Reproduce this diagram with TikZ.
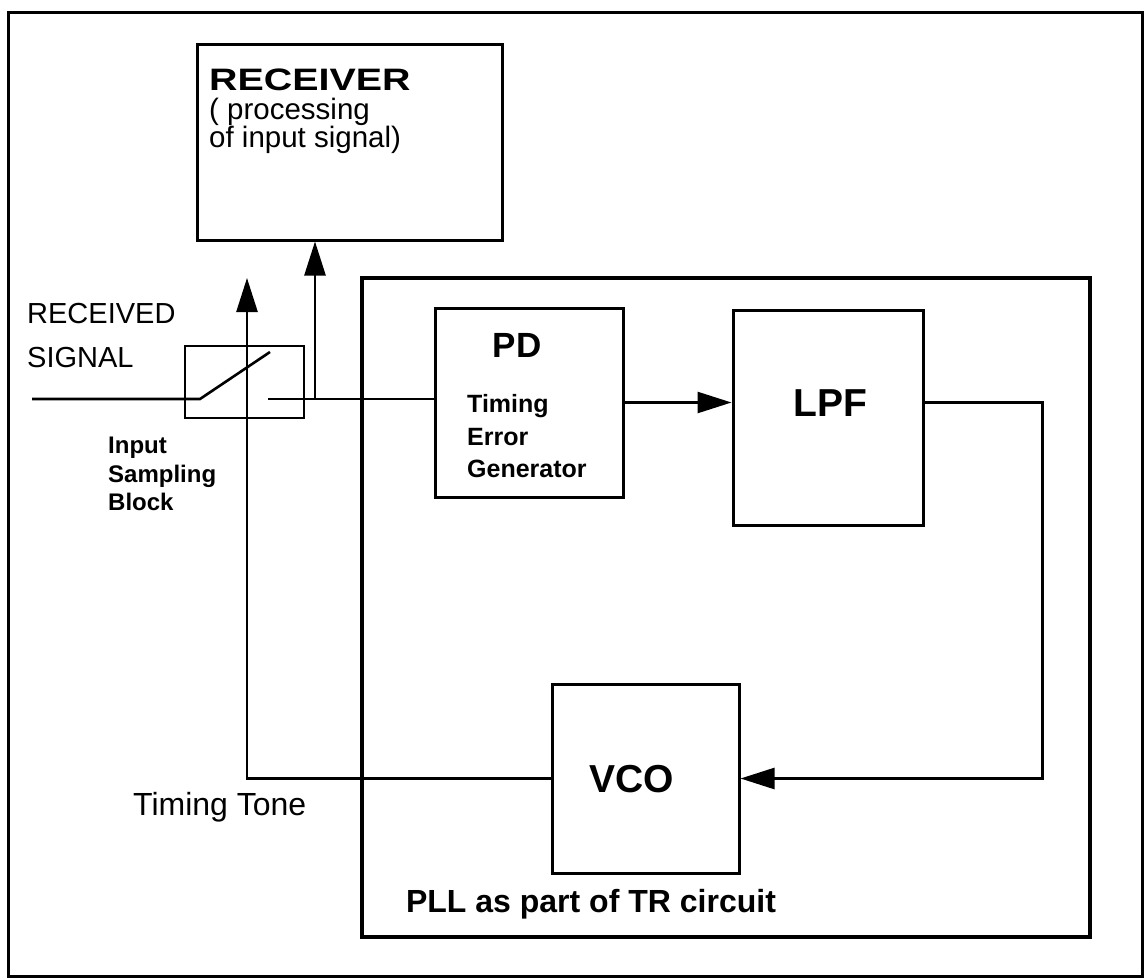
\documentclass[tikz,border=0pt]{standalone}
\usepackage{fontspec}
\setmainfont{Liberation Sans}
\newfontfamily\widefont{Liberation Sans}[FakeStretch=1.27]
\usetikzlibrary{arrows.meta}
\begin{document}
\begin{tikzpicture}[x=1pt,y=-1pt]
\tikzset{
  blk/.style={draw, line width=3pt, inner sep=0pt},
  wire/.style={line width=2.6pt},
  arr/.style={line width=2.6pt, -{Triangle[length=34pt,width=21pt]}},
  txt/.style={inner sep=0pt, anchor=base west},
  ctxt/.style={inner sep=0pt, anchor=base},
}
\useasboundingbox (0,0) rectangle (1144,979);

% outer frame
\node[blk, minimum width=1134pt, minimum height=963pt] (frame) at (575,494.5) {};

% receiver
\node[blk, minimum width=305pt, minimum height=195pt] (rec) at (349.5,142.5) {};
\node[txt] (rect) at (209,91) {\widefont\bfseries\fontsize{31}{31}\selectfont RECEIVER};
\node[txt] (rec2) at (209,120) {\fontsize{29.5}{29.5}\selectfont ( processing};
\node[txt] (rec3) at (209,148) {\fontsize{29.5}{29.5}\selectfont of input signal)};

% PLL box
\node[draw, line width=4.5pt, inner sep=0pt, minimum width=728pt, minimum height=659pt] (pll) at (726,607.5) {};
\node[ctxt] (pllt) at (591,912) {\bfseries\fontsize{32}{32}\selectfont PLL as part of TR circuit};

% switch
\node[draw, line width=2.6pt, inner sep=0pt, minimum width=119pt, minimum height=72pt] (sw) at (244.5,382) {};
\coordinate (in) at (32,399);
\coordinate (sa) at (200,399);
\coordinate (sb) at (270,352);
\coordinate (so) at (268,399);
\coordinate (jn) at (315,399);
\coordinate (tt) at (247,278);

% PD
\node[blk, minimum width=188pt, minimum height=189pt] (pd) at (529,402.5) {};
\node[ctxt] (pdt) at (517,357) {\bfseries\fontsize{35}{35}\selectfont PD};
\node[txt] (pd1) at (467,412) {\bfseries\fontsize{25}{25}\selectfont Timing};
\node[txt] (pd2) at (467,445) {\bfseries\fontsize{25}{25}\selectfont Error};
\node[txt] (pd3) at (467,477) {\bfseries\fontsize{25}{25}\selectfont Generator};

% LPF
\node[blk, minimum width=190pt, minimum height=215pt] (lpf) at (828,417.5) {};
\node[ctxt] (lpft) at (830,416) {\bfseries\fontsize{39}{39}\selectfont LPF};

% VCO
\node[blk, minimum width=187pt, minimum height=189pt] (vco) at (645.5,778.5) {};
\node[ctxt] (vcot) at (632,792) {\bfseries\fontsize{39}{39}\selectfont VCO};

% labels
\node[txt] (rs1) at (27,323) {\fontsize{29}{29}\selectfont RECEIVED};
\node[txt] (rs2) at (27,367) {\fontsize{29}{29}\selectfont SIGNAL};
\node[txt] (isb1) at (108,453) {\bfseries\fontsize{24}{24}\selectfont Input};
\node[txt] (isb2) at (108,482) {\bfseries\fontsize{24}{24}\selectfont Sampling};
\node[txt] (isb3) at (108,510) {\bfseries\fontsize{24}{24}\selectfont Block};
\node[txt] (ttl) at (133,815) {\fontsize{32}{32}\selectfont Timing Tone};

% connectors
\draw[wire] (in) -- (sa) -- (sb);
\draw[wire] (so) -- (so -| pd.west);
\draw[arr] (jn) -- (jn |- rec.south);
\draw[arr] (vco.west) -| (tt);
\draw[arr] (pd.east) -- (pd.east -| lpf.west);
\draw[arr] (lpf.east |- pd.east) -- ++(118,0) |- (vco.east);
\end{tikzpicture}
\end{document}
